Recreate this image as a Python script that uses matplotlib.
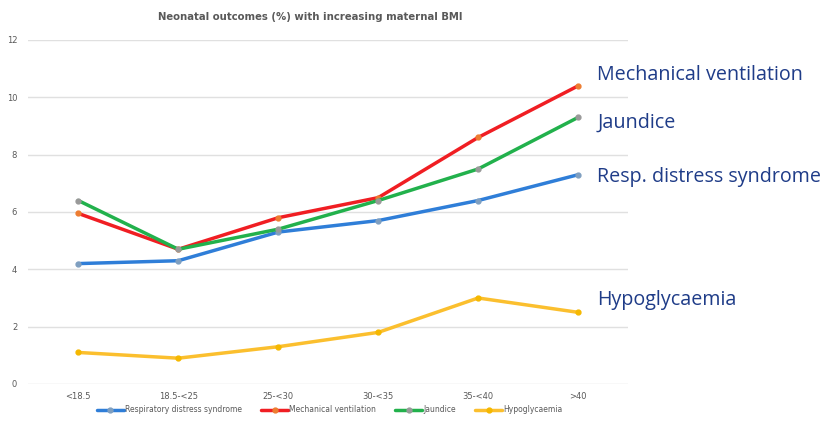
import matplotlib.pyplot as plt

categories = ["<18.5", "18.5-<25", "25-<30", "30-<35", "35-<40", ">40"]
resp_distress = [4.2, 4.3, 5.3, 5.7, 6.4, 7.3]
mech_vent = [5.95, 4.7, 5.8, 6.5, 8.6, 10.4]
jaundice = [6.4, 4.7, 5.4, 6.4, 7.5, 9.3]
hypoglycaemia = [1.1, 0.9, 1.3, 1.8, 3.0, 2.5]

# (legend name, values, line colour, marker colour, side label, label nudge in px)
series = [
    ("Respiratory distress syndrome", resp_distress, "#2F7ED8", "#7F9FC0", "Resp. distress syndrome", -2),
    ("Mechanical ventilation", mech_vent, "#F01E23", "#ED7D31", "Mechanical ventilation", 11),
    ("Jaundice", jaundice, "#22B14C", "#999999", "Jaundice", -5),
    ("Hypoglycaemia", hypoglycaemia, "#FBBF2E", "#F5B800", "Hypoglycaemia", 12),
]

fig = plt.figure(figsize=(8.33, 4.3), dpi=100)
ax = fig.add_axes([0.034, 0.107, 0.72, 0.8])

x = list(range(len(categories)))
for name, vals, col, mcol, _, _ in series:
    ax.plot(x, vals, color=col, lw=2.5, marker="o", ms=3.5,
            mfc=mcol, mec=mcol, label=name, solid_capstyle="round")

ax.set_xlim(-0.5, len(categories) - 0.5)
ax.set_ylim(0, 12)
ax.set_yticks(range(0, 13, 2))
ax.set_xticks(x)
ax.set_xticklabels(categories)
ax.tick_params(length=0, labelsize=6, colors="#595959")
ax.tick_params(axis="y", pad=8)
ax.tick_params(axis="x", pad=6)
ax.grid(axis="y", color="#E0E0E0", lw=1)
ax.set_axisbelow(True)
for s in ax.spines.values():
    s.set_visible(False)

fig.text(0.372, 0.96, "Neonatal outcomes (%) with increasing maternal BMI",
         ha="center", va="center", fontsize=7.3, fontweight="bold", color="#595959")

# direct labels on the right
for _, vals, _, _, short, dy in series:
    ax.annotate(short, xy=(len(categories) - 1, vals[-1]), xytext=(19, dy),
                textcoords="offset pixels", va="center",
                fontsize=14.2, color="#1F3C88", family="Open Sans",
                annotation_clip=False)

fig.legend(loc="center", bbox_to_anchor=(0.396, 0.047), ncol=4, frameon=False,
           fontsize=5.5, handlelength=3.5, handletextpad=0.2, columnspacing=2.5,
           labelcolor="#595959")

fig.savefig("out.png", dpi=100)
